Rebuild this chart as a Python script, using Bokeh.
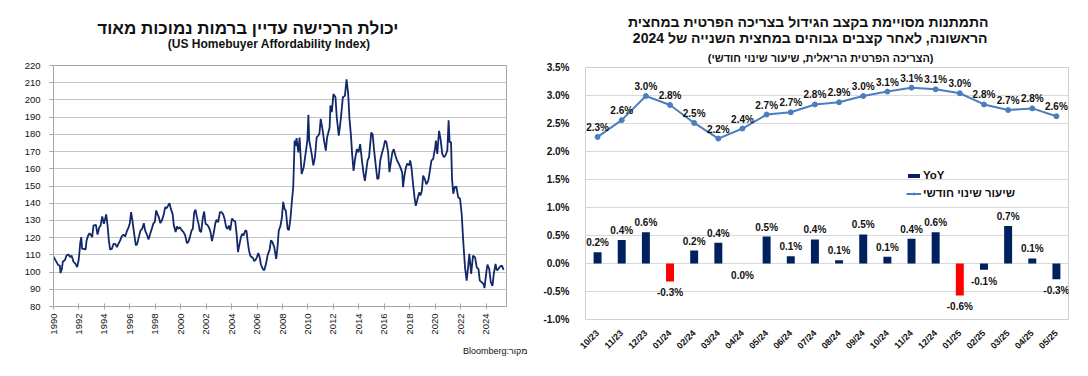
import math
from bokeh.plotting import figure
from bokeh.layouts import row, column
from bokeh.models import (Range1d, FactorRange, FixedTicker, PrintfTickFormatter, Title,
                          Legend, LegendItem, ColumnDataSource)
from bokeh.core.properties import value
from bokeh.embed import file_html
from bokeh.resources import INLINE

# ---------------- data: left chart (US Homebuyer Affordability Index) ----------------
afford_year = [
    1990.00, 1990.24, 1990.37, 1990.50, 1990.55, 1990.66, 1990.73, 1990.90, 1991.02, 1991.18,
    1991.30, 1991.42, 1991.57, 1991.73, 1991.86, 1991.97, 1992.04, 1992.10, 1992.18, 1992.25,
    1992.41, 1992.52, 1992.60, 1992.73, 1992.83, 1992.96, 1993.04, 1993.14, 1993.33, 1993.46,
    1993.60, 1993.70, 1993.83, 1993.96, 1994.06, 1994.14, 1994.25, 1994.35, 1994.45, 1994.59,
    1994.72, 1994.85, 1994.98, 1995.10, 1995.24, 1995.37, 1995.50, 1995.63, 1995.77, 1995.90,
    1996.00, 1996.10, 1996.20, 1996.34, 1996.47, 1996.58, 1996.70, 1996.84, 1996.97, 1997.10,
    1997.20, 1997.34, 1997.47, 1997.60, 1997.70, 1997.84, 1997.97, 1998.07, 1998.18, 1998.28,
    1998.40, 1998.54, 1998.67, 1998.78, 1998.88, 1999.00, 1999.12, 1999.22, 1999.36, 1999.46,
    1999.60, 1999.70, 1999.80, 1999.93, 2000.09, 2000.22, 2000.35, 2000.48, 2000.59, 2000.72,
    2000.85, 2000.95, 2001.06, 2001.16, 2001.27, 2001.40, 2001.50, 2001.60, 2001.74, 2001.84,
    2001.95, 2002.08, 2002.21, 2002.34, 2002.45, 2002.58, 2002.71, 2002.81, 2002.94, 2003.08,
    2003.21, 2003.34, 2003.44, 2003.57, 2003.68, 2003.78, 2003.89, 2004.02, 2004.15, 2004.28,
    2004.39, 2004.50, 2004.60, 2004.73, 2004.83, 2004.94, 2005.07, 2005.17, 2005.25, 2005.36,
    2005.46, 2005.57, 2005.67, 2005.78, 2005.88, 2005.99, 2006.09, 2006.20, 2006.30, 2006.43,
    2006.56, 2006.70, 2006.82, 2006.98, 2007.09, 2007.20, 2007.35, 2007.50, 2007.60, 2007.70,
    2007.84, 2007.95, 2008.05, 2008.16, 2008.26, 2008.40, 2008.50, 2008.63, 2008.74, 2008.84,
    2008.95, 2009.03, 2009.10, 2009.24, 2009.34, 2009.50, 2009.66, 2009.84, 2009.95, 2010.03,
    2010.10, 2010.29, 2010.42, 2010.55, 2010.68, 2010.80, 2010.90, 2011.00, 2011.16, 2011.26,
    2011.40, 2011.50, 2011.70, 2011.76, 2011.87, 2012.00, 2012.16, 2012.26, 2012.42, 2012.58,
    2012.74, 2012.90, 2013.03, 2013.16, 2013.26, 2013.37, 2013.47, 2013.58, 2013.70, 2013.84,
    2013.97, 2014.10, 2014.24, 2014.37, 2014.47, 2014.58, 2014.68, 2014.80, 2014.97, 2015.08,
    2015.20, 2015.34, 2015.45, 2015.55, 2015.68, 2015.80, 2015.95, 2016.05, 2016.16, 2016.30,
    2016.40, 2016.53, 2016.63, 2016.74, 2016.87, 2017.00, 2017.13, 2017.26, 2017.40, 2017.47,
    2017.58, 2017.70, 2017.80, 2017.95, 2018.03, 2018.13, 2018.26, 2018.37, 2018.47, 2018.58,
    2018.74, 2018.84, 2018.95, 2019.05, 2019.18, 2019.30, 2019.45, 2019.58, 2019.70, 2019.84,
    2020.00, 2020.05, 2020.16, 2020.30, 2020.42, 2020.55, 2020.68, 2020.80, 2020.95, 2021.05,
    2021.13, 2021.24, 2021.32, 2021.42, 2021.53, 2021.66, 2021.80, 2021.95, 2022.08, 2022.20,
    2022.34, 2022.47, 2022.58, 2022.68, 2022.82, 2022.97, 2023.13, 2023.26, 2023.40, 2023.50,
    2023.66, 2023.80, 2023.87, 2024.00, 2024.10, 2024.24, 2024.37, 2024.50, 2024.60, 2024.74,
    2024.84, 2024.97, 2025.10, 2025.24, 2025.37,
]
afford_value = [
    109.0, 105.8, 104.0, 103.8, 99.4, 102.0, 106.0, 107.0, 109.6, 110.2,
    108.7, 109.6, 106.0, 104.8, 102.9, 106.7, 111.6, 116.8, 120.3, 113.5,
    113.5, 113.0, 118.4, 121.3, 122.6, 121.3, 120.3, 127.0, 127.5, 121.8,
    126.0, 127.0, 132.3, 128.0, 131.0, 133.5, 127.0, 118.4, 113.1, 113.5,
    116.4, 116.4, 114.5, 116.4, 118.4, 120.9, 121.8, 120.7, 123.8, 126.0,
    128.4, 134.8, 130.0, 122.2, 115.5, 116.4, 120.3, 124.2, 125.1, 128.4,
    124.2, 121.8, 118.9, 122.2, 124.6, 128.0, 129.4, 135.8, 133.5, 131.9,
    128.4, 130.4, 133.8, 137.7, 137.1, 138.5, 140.0, 136.7, 133.8, 127.0,
    123.2, 126.5, 125.1, 126.1, 124.2, 123.2, 121.3, 116.8, 117.4, 120.3,
    124.2, 125.1, 134.8, 136.2, 131.9, 128.0, 123.8, 123.2, 131.9, 135.2,
    128.0, 127.5, 126.1, 123.2, 118.0, 122.2, 128.0, 130.4, 129.0, 134.8,
    134.8, 133.5, 131.0, 126.1, 125.1, 127.0, 124.2, 131.0, 130.0, 129.4,
    122.2, 111.6, 115.5, 120.3, 122.2, 121.3, 124.2, 123.8, 118.4, 112.6,
    109.6, 108.7, 108.3, 106.4, 107.1, 108.7, 111.0, 108.7, 104.4, 102.0,
    101.0, 104.8, 109.6, 112.9, 118.4, 117.4, 114.5, 107.7, 114.0, 124.0,
    127.0, 131.7, 140.8, 136.7, 135.6, 125.0, 124.4, 131.7, 141.6, 149.3,
    176.4, 173.3, 177.8, 169.5, 178.2, 157.0, 160.8, 170.4, 176.4, 191.3,
    176.4, 168.5, 162.0, 166.8, 178.2, 179.2, 180.5, 189.0, 182.0, 176.4,
    170.6, 178.2, 184.0, 196.8, 192.9, 203.4, 201.6, 190.0, 179.2, 189.0,
    201.6, 202.4, 212.0, 203.4, 189.0, 180.0, 168.5, 158.8, 165.6, 171.4,
    169.5, 174.3, 164.8, 157.0, 153.0, 159.0, 164.8, 166.8, 181.0, 180.0,
    170.4, 161.0, 154.0, 154.5, 164.8, 168.7, 172.6, 176.4, 175.5, 169.5,
    158.0, 164.8, 169.5, 171.4, 167.7, 164.8, 163.0, 160.8, 158.0, 149.3,
    156.0, 160.8, 163.0, 162.0, 164.8, 160.8, 151.0, 143.5, 138.5, 141.6,
    146.3, 144.5, 147.4, 156.0, 154.0, 151.0, 153.0, 159.0, 164.8, 165.8,
    172.6, 176.4, 168.7, 182.0, 177.2, 168.7, 166.8, 167.7, 170.6, 188.2,
    175.5, 175.5, 154.0, 145.5, 149.3, 149.7, 143.5, 142.6, 133.6, 118.0,
    102.7, 95.0, 102.7, 110.6, 99.0, 109.5, 108.5, 102.7, 101.7, 95.0,
    94.0, 93.0, 90.7, 99.0, 104.4, 101.9, 94.0, 92.0, 99.0, 104.8,
    101.0, 101.9, 103.3, 103.7, 101.3,
]
afford_ticks = list(range(1990, 2025, 2))
afford_yticks = list(range(80, 221, 10))

left_title = "יכולת הרכישה עדיין ברמות נמוכות מאוד"
left_subtitle = "(US Homebuyer Affordability Index)"
left_source = "Bloomberg:מקור"

# ---------------- data: right chart (private consumption) ----------------
months = ["10/23", "11/23", "12/23", "01/24", "02/24", "03/24", "04/24", "05/24", "06/24", "07/24",
          "08/24", "09/24", "10/24", "11/24", "12/24", "01/25", "02/25", "03/25", "04/25", "05/25"]
monthly_rate = [2.26, 2.56, 2.99, 2.83, 2.51, 2.23, 2.41, 2.66, 2.70, 2.84,
                2.88, 2.99, 3.07, 3.14, 3.11, 3.04, 2.84, 2.74, 2.77, 2.63]
yoy = [0.20, 0.42, 0.56, -0.32, 0.23, 0.37, 0.00, 0.48, 0.13, 0.43,
       0.06, 0.52, 0.12, 0.44, 0.56, -0.57, -0.11, 0.67, 0.09, -0.28]
right_yticks = [-1.0, -0.5, 0.0, 0.5, 1.0, 1.5, 2.0, 2.5, 3.0, 3.5]

right_title1 = "התמתנות מסויימת בקצב הגידול בצריכה הפרטית במחצית"
right_title2 = "הראשונה, לאחר קצבים גבוהים במחצית השנייה של 2024"
right_title3 = "(הצריכה הפרטית הריאלית, שיעור שינוי חודשי)"
legend_bar = "YoY"
legend_line = "שיעור שינוי חודשי"

FONT = "Liberation Sans"
NAVY = "#002060"
RED = "#ff0000"
LINE_BLUE = "#4a7ebf"
TXT = "#111111"


def add_title(p, text, place, size, offset, standoff, align="right", bold=True, vertical_align="bottom"):
    t = Title(text=text, align=align, offset=offset, standoff=0,
              vertical_align=vertical_align, text_font=FONT, text_font_size=size,
              text_font_style="bold" if bold else "normal", text_color=TXT)
    try:
        t.standoff = standoff
    except ValueError:
        t.standoff = max(standoff, 0)
    p.add_layout(t, place)


# ---------------- left figure ----------------
p1 = figure(width=540, height=368, output_backend="svg", toolbar_location=None,
            x_range=Range1d(1990, 2025.6), y_range=Range1d(80, 220),
            min_border_left=53, min_border_right=34, min_border_top=65, min_border_bottom=62)
p1.line(afford_year, afford_value, line_color="#13286b", line_width=1.8)

p1.xaxis.ticker = FixedTicker(ticks=afford_ticks)
p1.yaxis.ticker = FixedTicker(ticks=afford_yticks)
p1.xaxis.major_label_orientation = math.pi / 2
p1.xgrid.visible = False
p1.ygrid.grid_line_color = "#c4c4c4"
p1.outline_line_color = "#a6a6a6"
for ax in (p1.xaxis, p1.yaxis):
    ax.axis_line_color = "#a6a6a6"
    ax.major_tick_line_color = "#a6a6a6"
    ax.minor_tick_line_color = None
    ax.major_label_text_font = FONT
    ax.major_label_text_font_size = "9.5px"
    ax.major_label_text_color = TXT
p1.xaxis.major_tick_in = 3
p1.xaxis.major_tick_out = 3
p1.xaxis.major_label_standoff = 4
p1.yaxis.major_tick_in = 0
p1.yaxis.major_tick_out = 4
p1.yaxis.major_label_standoff = 9

# titles: first added sits nearest to the plot (a blank one acts as a gap)
add_title(p1, " ", "above", "2px", 0, 11)
add_title(p1, left_subtitle, "above", "12px", 136, 0)
add_title(p1, left_title, "above", "17px", 108, -6)
add_title(p1, left_source, "below", "9px", -21, 16, bold=False, vertical_align="top")

# ---------------- right figure ----------------
p2 = figure(width=540, height=368, output_backend="svg", toolbar_location=None,
            x_range=FactorRange(*months), y_range=Range1d(-1.0, 3.5),
            min_border_left=45, min_border_right=12, min_border_top=67, min_border_bottom=49)

is_red = [m.startswith("01/") for m in months]
navy_src = ColumnDataSource(dict(m=[m for m, r in zip(months, is_red) if not r],
                                 v=[v for v, r in zip(yoy, is_red) if not r]))
red_src = ColumnDataSource(dict(m=[m for m, r in zip(months, is_red) if r],
                                v=[v for v, r in zip(yoy, is_red) if r]))
r_bar = p2.vbar(x="m", top="v", bottom=0, width=0.33, fill_color=NAVY, line_color=None, source=navy_src)
p2.vbar(x="m", top="v", bottom=0, width=0.33, fill_color=RED, line_color=None, source=red_src)

r_line = p2.line(months, monthly_rate, line_color=LINE_BLUE, line_width=2)
r_pts = p2.scatter(months, monthly_rate, size=5, fill_color=LINE_BLUE, line_color=LINE_BLUE)

lbl_font = dict(text_font=value(FONT), text_font_size="10px", text_font_style="bold",
                text_color=TXT, text_align="center")
p2.text(months, monthly_rate, text=[f"{v:.1f}%" for v in monthly_rate],
        text_baseline="bottom", y_offset=-4, **lbl_font)
pos = [(m, v) for m, v in zip(months, yoy) if v > 0]
neg = [(m, v) for m, v in zip(months, yoy) if v <= 0]
p2.text([m for m, _ in pos], [v for _, v in pos], text=[f"{v:.1f}%" for _, v in pos],
        text_baseline="bottom", y_offset=-4, **lbl_font)
p2.text([m for m, _ in neg], [v for _, v in neg], text=[f"{v:.1f}%" for _, v in neg],
        text_baseline="top", y_offset=6, **lbl_font)

p2.yaxis.ticker = FixedTicker(ticks=right_yticks)
p2.yaxis.formatter = PrintfTickFormatter(format="%.1f%%")
p2.xaxis.major_label_orientation = math.pi / 4
p2.xgrid.visible = False
p2.ygrid.grid_line_color = "#d9d9d9"
p2.outline_line_color = "#d0d0d0"
for ax in (p2.xaxis, p2.yaxis):
    ax.axis_line_color = None
    ax.major_tick_line_color = None
    ax.minor_tick_line_color = None
    ax.major_label_text_font = FONT
    ax.major_label_text_font_style = "bold"
    ax.major_label_text_color = TXT
p2.yaxis.major_label_text_font_size = "10px"
p2.xaxis.major_label_text_font_size = "9px"
p2.yaxis.major_label_standoff = 10
p2.xaxis.major_label_standoff = 6

legend = Legend(items=[LegendItem(label=legend_bar, renderers=[r_bar]),
                       LegendItem(label=legend_line, renderers=[r_line, r_pts])],
                location=(321, 118), background_fill_alpha=0, border_line_alpha=0,
                label_text_font=FONT, label_text_font_size="11.5px", label_text_font_style="bold",
                label_text_color=TXT, glyph_width=15, glyph_height=5, label_height=16,
                padding=0, spacing=2, label_standoff=2, margin=0)
p2.add_layout(legend)

add_title(p2, right_title3, "above", "11px", 135, 8)
add_title(p2, right_title2, "above", "14px", 81, 0)
add_title(p2, right_title1, "above", "14px", 80, -4)

layout = row(column(p1), column(p2))
open("out.html", "w").write(file_html(layout, INLINE))
